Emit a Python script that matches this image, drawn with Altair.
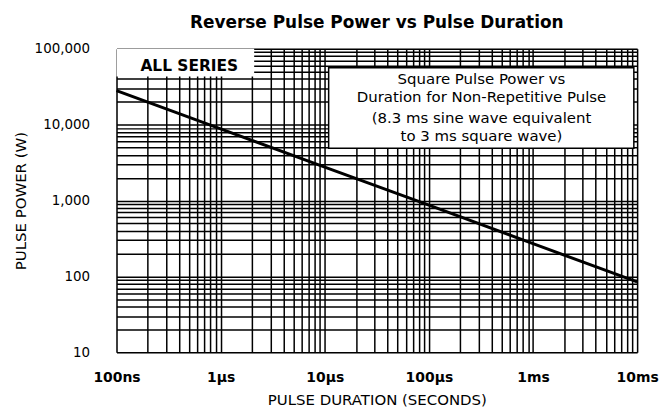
import altair as alt
import pandas as pd

# --- data ---
durations = [1e-7, 1e-6, 1e-5, 1e-4, 1e-3, 1e-2]          # seconds
powers = [28000, 8800, 2750, 870, 270, 85]                   # watts
x_tick_labels = ['100ns', '1µs', '10µs', '100µs', '1ms', '10ms']
y_decades = [10, 100, 1000, 10000, 100000]

x_grid = [m * 10.0 ** e for e in range(-7, -2) for m in range(1, 10)] + [1e-2]
y_grid = [m * 10.0 ** e for e in range(1, 5) for m in range(1, 10)] + [1e5]

# annotation boxes (data units)
box_all = dict(x=1e-7, x2=2.1e-6, y=43000, y2=100000)
box_note = dict(x=1.09e-5, x2=9.3e-3, y=4900, y2=56000)
note_lines = ['Square Pulse Power vs', 'Duration for Non-Repetitive Pulse',
              '(8.3 ms sine wave equivalent', 'to 3 ms square wave)']
note_y = [40400, 22800, 12100, 7000]
note_x = 3.2e-4

FONT = 'DejaVu Sans'

line_df = pd.DataFrame({'t': durations, 'p': powers})

lbl_arr = '[' + ','.join("'" + s + "'" for s in x_tick_labels) + ']'
x_expr = ("abs(log(datum.value)/LN10 - round(log(datum.value)/LN10)) < 0.001 ? "
          + lbl_arr + "[round(log(datum.value)/LN10) + 7] : ''")
y_expr = ("abs(log(datum.value)/LN10 - round(log(datum.value)/LN10)) < 0.001 ? "
          "format(datum.value, ',') : ''")

xscale = alt.Scale(type='log', domain=[1e-7, 1e-2], nice=False)
yscale = alt.Scale(type='log', domain=[10, 100000], nice=False)

x_enc = alt.X('t:Q', scale=xscale,
              axis=alt.Axis(values=x_grid, labelExpr=x_expr, title='PULSE DURATION (SECONDS)',
                            grid=True, ticks=False, tickSize=0, domain=False,
                            labelPadding=18, titlePadding=8, labelFontSize=14,
                            labelFontWeight='bold',
                            labelFont=FONT, titleFont=FONT, titleFontSize=15,
                            titleFontWeight='normal', labelColor='black', titleColor='black',
                            gridColor='black', gridWidth=1.5, gridOpacity=1,
                            labelFlush=False, labelOverlap=False))
y_enc = alt.Y('p:Q', scale=yscale,
              axis=alt.Axis(values=y_grid, labelExpr=y_expr, title='PULSE POWER (W)',
                            grid=True, ticks=False, tickSize=0, domain=False,
                            labelPadding=27, titlePadding=6, labelFontSize=13.5,
                            labelFont=FONT, titleFont=FONT, titleFontSize=15,
                            titleFontWeight='normal', labelColor='black', titleColor='black',
                            gridColor='black', gridWidth=1.5, gridOpacity=1,
                            labelFlush=False, labelOverlap=False))

line = alt.Chart(line_df).mark_line(color='black', strokeWidth=3).encode(x=x_enc, y=y_enc)

box1 = alt.Chart(pd.DataFrame([box_all])).mark_rect(fill='white').encode(
    x=alt.X('x:Q', scale=xscale), x2='x2:Q', y=alt.Y('y:Q', scale=yscale), y2='y2:Q')
box2 = alt.Chart(pd.DataFrame([box_note])).mark_rect(fill='white', stroke='black', strokeWidth=1.5).encode(
    x=alt.X('x:Q', scale=xscale), x2='x2:Q', y=alt.Y('y:Q', scale=yscale), y2='y2:Q')

t1 = alt.Chart(pd.DataFrame({'x': [5e-7], 'y': [60000], 's': ['ALL SERIES']})).mark_text(
    font=FONT, fontSize=15.5, fontWeight='bold', color='black').encode(
    x=alt.X('x:Q', scale=xscale), y=alt.Y('y:Q', scale=yscale), text='s:N')

notes = alt.Chart(pd.DataFrame({'x': [note_x] * 4, 'y': note_y, 's': note_lines})).mark_text(
    font=FONT, fontSize=15, color='black').encode(
    x=alt.X('x:Q', scale=xscale), y=alt.Y('y:Q', scale=yscale), text='s:N')

chart = alt.layer(line, box1, box2, t1, notes).properties(
    width=523, height=305,
    title=alt.TitleParams('Reverse Pulse Power vs Pulse Duration', font=FONT, fontSize=17,
                          fontWeight='bold', color='black', offset=10)
).configure_view(stroke='black', strokeWidth=2).configure(background='white')

chart.save('out.html', embed_options={'renderer': 'svg', 'actions': False})
